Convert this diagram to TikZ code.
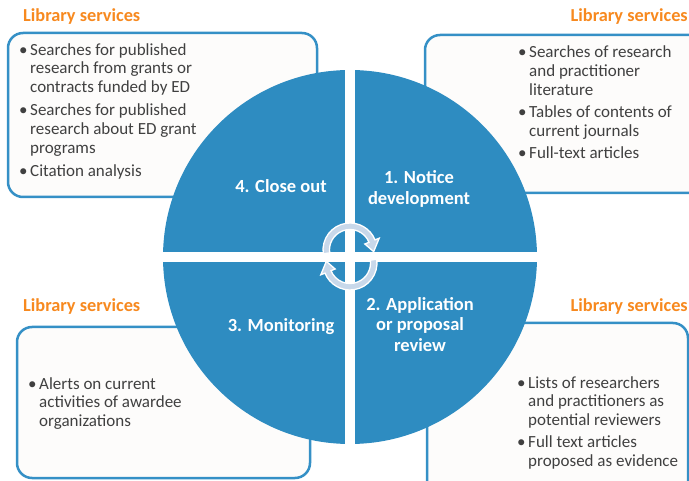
\documentclass[tikz,border=0pt]{standalone}
\usepackage{fontspec}
\setmainfont{Carlito}
\definecolor{cblue}{HTML}{2E8CC1}
\definecolor{bord}{HTML}{3590C6}
\definecolor{orng}{HTML}{F7891F}
\definecolor{txt}{HTML}{404040}
\definecolor{arr}{HTML}{C8D8EA}
\definecolor{boxfill}{HTML}{FDFCFB}
\newcommand{\bl}{\makebox[11pt][l]{•}}
\newcommand{\ind}{\hspace*{11pt}}
\tikzset{
 svcbox/.style={draw=bord, line width=2.5pt, fill=boxfill, rounded corners=15pt},
 svctitle/.style={text=orng, font=\fontsize{18.3}{20}\selectfont\bfseries, inner sep=0pt},
 svclist/.style={text=txt, font=\fontsize{17}{18.7}\selectfont, align=left, inner sep=0pt, anchor=base west},
 phase/.style={text=white, font=\fontsize{18.5}{20.8}\selectfont\bfseries, align=center, inner sep=0pt, anchor=base},
 cyc/.style={fill=arr, draw=white, line width=1.3pt, line join=miter},
}
\begin{document}
\begin{tikzpicture}[x=1pt,y=1pt]
\useasboundingbox (0,0) rectangle (689,480);
\clip (0,0) rectangle (689,480);
% service boxes
\draw[svcbox] (8,447) rectangle (317,283);
\draw[svcbox] (425,445) rectangle (715,287);
\draw[svcbox] (17,153) rectangle (310,2);
\draw[svcbox] (427,157) rectangle (688,-20);
% titles
\node[svctitle, anchor=base west] (t1) at (23,458.5) {Library services};
\node[svctitle, anchor=base east] (t2) at (688,458.5) {Library services};
\node[svctitle, anchor=base west] (t3) at (23,168.3) {Library services};
\node[svctitle, anchor=base east] (t4) at (688,168.3) {Library services};
% lists (anchored at the baseline of their last line)
\node[svclist] (l1) at (19,303.5) {\bl Searches for published\\ \ind research from grants or\\ \ind contracts funded by ED\\[4.5pt] \bl Searches for published\\ \ind research about ED grant\\ \ind programs\\[4.5pt] \bl Citation analysis};
\node[svclist] (l2) at (518,321.5) {\bl Searches of research\\ \ind and practitioner\\ \ind literature\\[3.5pt] \bl Tables of contents of\\ \ind current journals\\[3.5pt] \bl Full-text articles};
\node[svclist] (l3) at (28,53.5) {\bl Alerts on current\\ \ind activities of awardee\\ \ind organizations};
\node[svclist] (l4) at (517,13.5) {\bl Lists of researchers\\ \ind and practitioners as\\ \ind potential reviewers\\[3.5pt] \bl Full text articles\\ \ind proposed as evidence};
% cycle circle
\fill[cblue] (350,223) circle (187);
\begin{scope}
\clip (350,223) circle (188);
\fill[white] (345,30) rectangle (355,420);
\fill[white] (158,218) rectangle (542,228);
\end{scope}
% phase labels
\node[phase] (p4) at (281,287) {4. Close out};
\node[phase] (p1) at (419,275.7) {1. Notice\\development};
\node[phase] (p3) at (281,148.3) {3. Monitoring};
\node[phase] (p2) at (420,128.3) {2. Application\\or proposal\\review};
% circular arrows
\begin{scope}[shift={(350,230)}]
\draw[cyc] (188:27) arc[start angle=188,end angle=22,radius=27] -- (22:31.5) -- (-4:23.75) -- (22:16) -- (22:20.5) arc[start angle=22,end angle=188,radius=20.5] -- cycle;
\end{scope}
\begin{scope}[shift={(350,217)},rotate=180]
\draw[cyc] (188:27) arc[start angle=188,end angle=22,radius=27] -- (22:31.5) -- (-4:23.75) -- (22:16) -- (22:20.5) arc[start angle=22,end angle=188,radius=20.5] -- cycle;
\end{scope}
\end{tikzpicture}
\end{document}
